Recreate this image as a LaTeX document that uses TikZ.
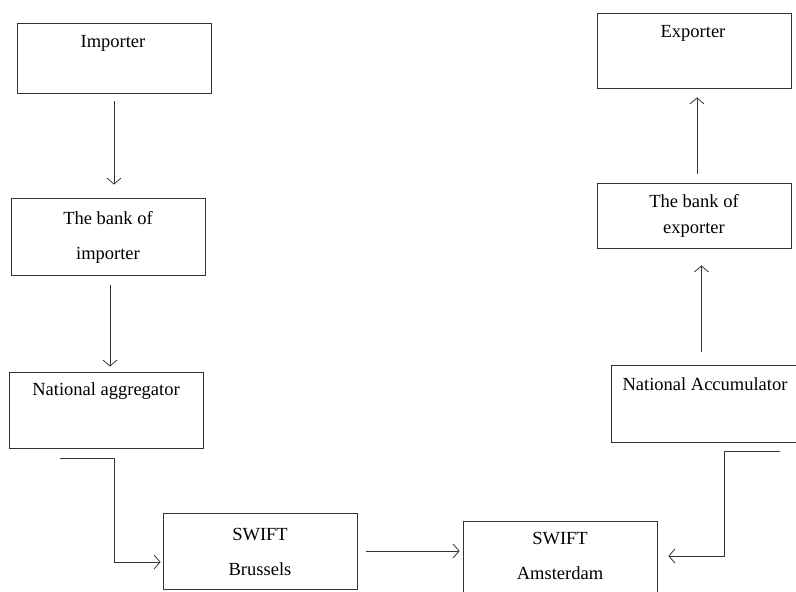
\documentclass[tikz,border=0pt]{standalone}
\usepackage{fontspec}
\setmainfont{Liberation Serif}
\usetikzlibrary{arrows.meta}
\tikzset{my box/.style={draw=black!80, line width=0.8pt, minimum width=194pt, inner sep=0pt},
my text/.style={font=\fontsize{18.5}{22}\selectfont, align=center, inner sep=0pt},
my arrow/.style={draw=black!80, line width=0.8pt, -{Straight Barb[length=6pt,width=14pt]}},}

\begin{document}
\begin{tikzpicture}[x=1pt,y=-1pt]
\useasboundingbox (0,0) rectangle (796,592);
\node [my box,minimum height=70pt] (importer) at (114.0, 58.0) {};
\node [my text] (importer-t) at (113.0, 43.0) {Importer};
\node [my box,minimum height=77pt] (bankimp) at (108.0,236.5) {};
\node [my text] (bankimp-t) at (108.0,237.0) {The bank of\\[13pt]importer};
\node [my box,minimum height=76pt] (aggregator) at (106.0,410.0) {};
\node [my text] (aggregator-t) at (106.0,391.0) {National aggregator};
\node [my box,minimum height=76pt] (brussels) at (260.0,551.0) {};
\node [my text] (brussels-t) at (260.0,552.0) {SWIFT\\[13pt]Brussels};
\node [my box,minimum height=76pt] (amsterdam) at (560.0,559.0) {};
\node [my text] (amsterdam-t) at (560.0,556.0) {SWIFT\\[13pt]Amsterdam};
\node [my box,minimum height=77pt,minimum width=185pt] (accumulator) at (703.5,403.5) {};
\node [my text] (accumulator-t) at (705.0,384.0) {National Accumulator};
\node [my box,minimum height=65pt] (bankexp) at (694.0,215.5) {};
\node [my text] (bankexp-t) at (694.0,216.0) {The bank of\\[4pt]exporter};
\node [my box,minimum height=75pt] (exporter) at (694.0, 50.5) {};
\node [my text] (exporter-t) at (693.0, 33.0) {Exporter};
\coordinate (aggregator-out) at (60.0,458.0);
\coordinate (accumulator-out) at (780.0,451.0);
\draw [my arrow,shorten <=8pt,shorten >=13pt] (importer.south) -- (importer.south |- bankimp.north);
\draw [my arrow,shorten <=10pt,shorten >=5pt] ([xshift=2pt]bankimp.south) -- ([xshift=2pt]bankimp.south |- aggregator.north);
\draw [my arrow,shorten >=2pt] (aggregator-out) -- ++(54,0) |- ([yshift=-11pt]brussels.west);
\draw [my arrow,shorten <=9pt,shorten >=3pt] (brussels.east) -- (brussels.east -| amsterdam.west);
\draw [my arrow,shorten >=11pt] (accumulator-out) -- ++(-56,0) |- ([yshift=3pt]amsterdam.east);
\draw [my arrow,shorten <=13pt,shorten >=17pt] ([xshift=-2pt]accumulator.north) -- ([xshift=-2pt]accumulator.north |- bankexp.south);
\draw [my arrow,shorten <=9pt,shorten >=9pt] ([xshift=3pt]bankexp.north) -- ([xshift=3pt]bankexp.north |- exporter.south);
\end{tikzpicture}
\end{document}
